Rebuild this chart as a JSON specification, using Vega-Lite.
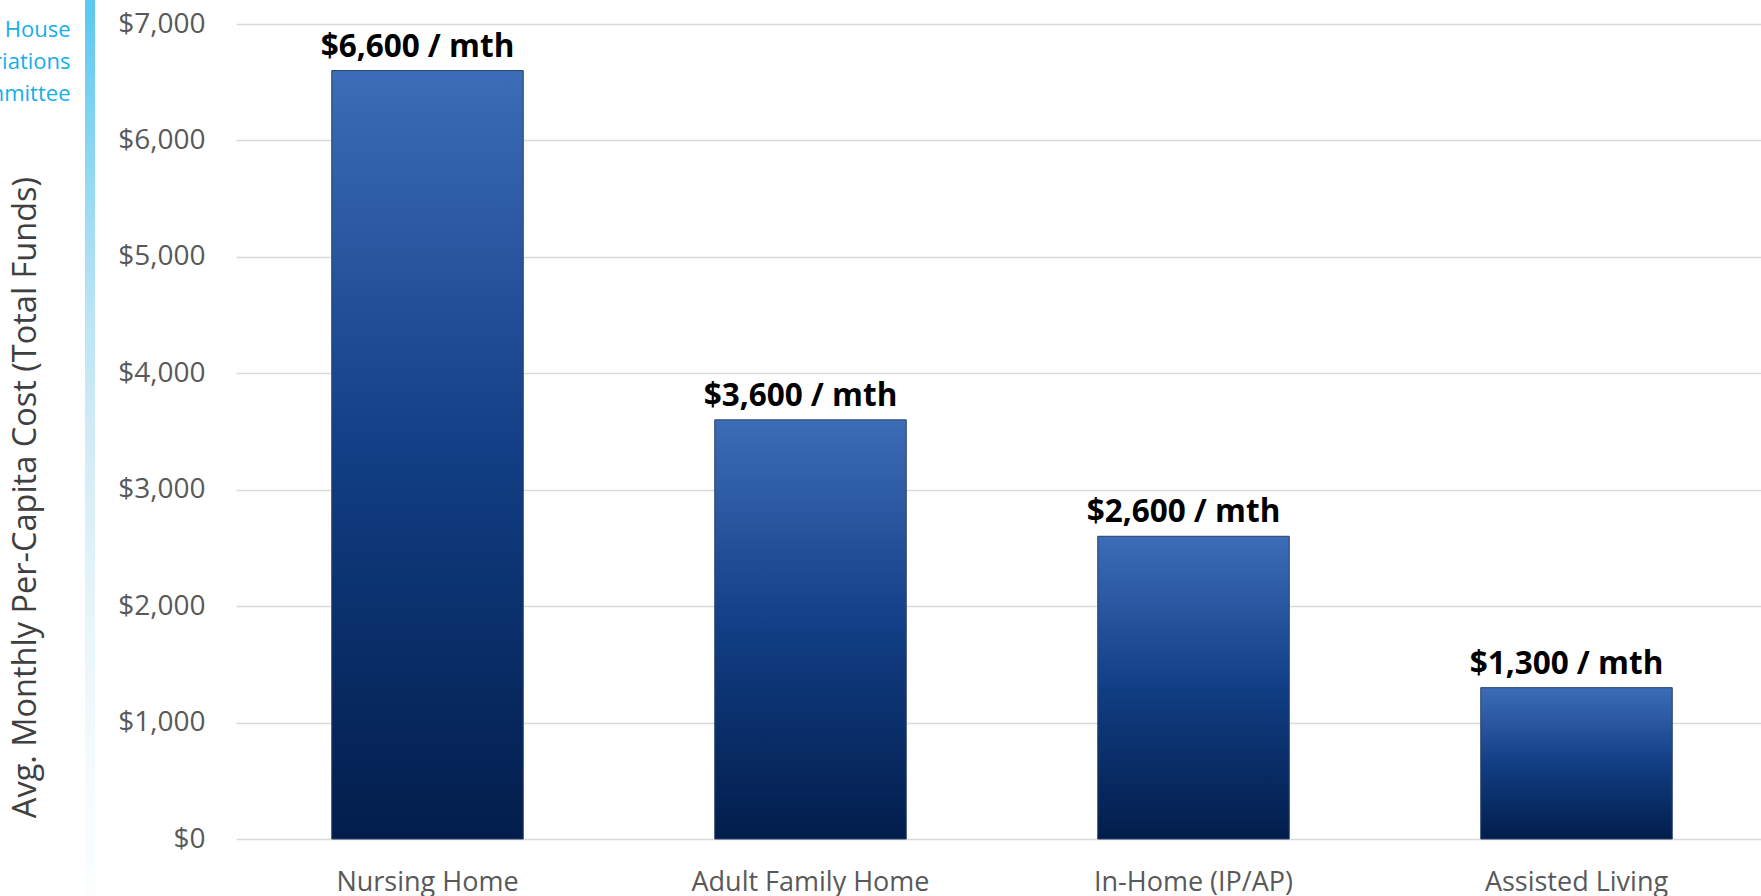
{
  "$schema": "https://vega.github.io/schema/vega-lite/v6.json",
  "width": 1525,
  "height": 815,
  "autosize": "none",
  "padding": {"left": 236, "top": 24, "right": 0, "bottom": 57},
  "background": "#ffffff",
  "config": {
    "font": "Open Sans",
    "view": {"stroke": null}
  },
  "data": {
    "values": [
      {"setting": "Nursing Home", "cost": 6600},
      {"setting": "Adult Family Home", "cost": 3600},
      {"setting": "In-Home (IP/AP)", "cost": 2600},
      {"setting": "Assisted Living", "cost": 1300}
    ]
  },
  "encoding": {
    "x": {
      "field": "setting",
      "type": "nominal",
      "sort": null,
      "scale": {"range": [0, 1532], "paddingInner": 0.5, "paddingOuter": 0.25},
      "axis": {
        "title": ["House", "Appropriations", "Committee"],
        "titleFont": "Open Sans",
        "titleFontSize": 22,
        "titleFontWeight": "normal",
        "titleColor": "#14aee9",
        "titleLineHeight": 32,
        "titleAngle": 0,
        "titleAlign": "right",
        "titleBaseline": "alphabetic",
        "titleX": -166,
        "titleY": -803,
        "titleLimit": 0,
        "labelAngle": 0,
        "labelFont": "Open Sans",
        "labelFontSize": 27,
        "labelColor": "#595959",
        "labelPadding": 51,
        "labelBaseline": "alphabetic",
        "labelLimit": 0,
        "ticks": false,
        "tickSize": 0,
        "domain": false,
        "grid": false
      }
    },
    "y": {
      "field": "cost",
      "type": "quantitative",
      "scale": {"domain": [0, 7000], "nice": false},
      "axis": {
        "title": "Avg. Monthly Per-Capita Cost (Total Funds)",
        "titleFont": "Open Sans",
        "titleFontSize": 32.5,
        "titleFontWeight": "normal",
        "titleColor": "#404040",
        "titleX": -211,
        "titleY": 473,
        "titleAngle": -90,
        "titleAlign": "center",
        "titleBaseline": "middle",
        "titleLimit": 0,
        "values": [0, 1000, 2000, 3000, 4000, 5000, 6000, 7000],
        "format": "$,.0f",
        "labelFont": "Open Sans",
        "labelFontSize": 28,
        "labelColor": "#595959",
        "labelPadding": 31,
        "labelBaseline": "middle",
        "ticks": false,
        "tickSize": 0,
        "domain": false,
        "grid": true,
        "gridColor": "#d9d9d9",
        "gridWidth": 1.5
      }
    }
  },
  "layer": [
    {
      "mark": {
        "type": "bar",
        "fill": {
          "gradient": "linear",
          "x1": 0, "y1": 0, "x2": 0, "y2": 1,
          "stops": [
            {"offset": 0, "color": "#3d6cb8"},
            {"offset": 0.5, "color": "#113e84"},
            {"offset": 1, "color": "#021d4b"}
          ]
        },
        "stroke": "#2a4169",
        "strokeWidth": 1
      }
    },
    {
      "mark": {
        "type": "text",
        "text": {"expr": "format(datum.cost, '$,') + ' / mth'"},
        "font": "Open Sans",
        "fontSize": 31.5,
        "fontWeight": "bold",
        "fill": "#000000",
        "strokeWidth": 0,
        "align": "center",
        "baseline": "alphabetic",
        "dx": -10,
        "dy": -14
      },
      "encoding": {
        "stroke": {
          "field": "cost",
          "type": "quantitative",
          "scale": {
            "domain": [0, 1200, 2300, 3500, 4700, 5800, 7000],
            "range": ["#fcfeff", "#f3fafd", "#e6f4fa", "#d3ecf6", "#b6e3f5", "#8ad6f2", "#5ac8f0"]
          },
          "legend": {
            "orient": "none",
            "legendX": -151,
            "legendY": -24,
            "direction": "vertical",
            "gradientLength": 896,
            "gradientThickness": 10,
            "gradientStrokeWidth": 0,
            "labelExpr": "''",
            "labelOpacity": 0,
            "title": null,
            "padding": 0,
            "offset": 0
          }
        }
      }
    }
  ]
}
